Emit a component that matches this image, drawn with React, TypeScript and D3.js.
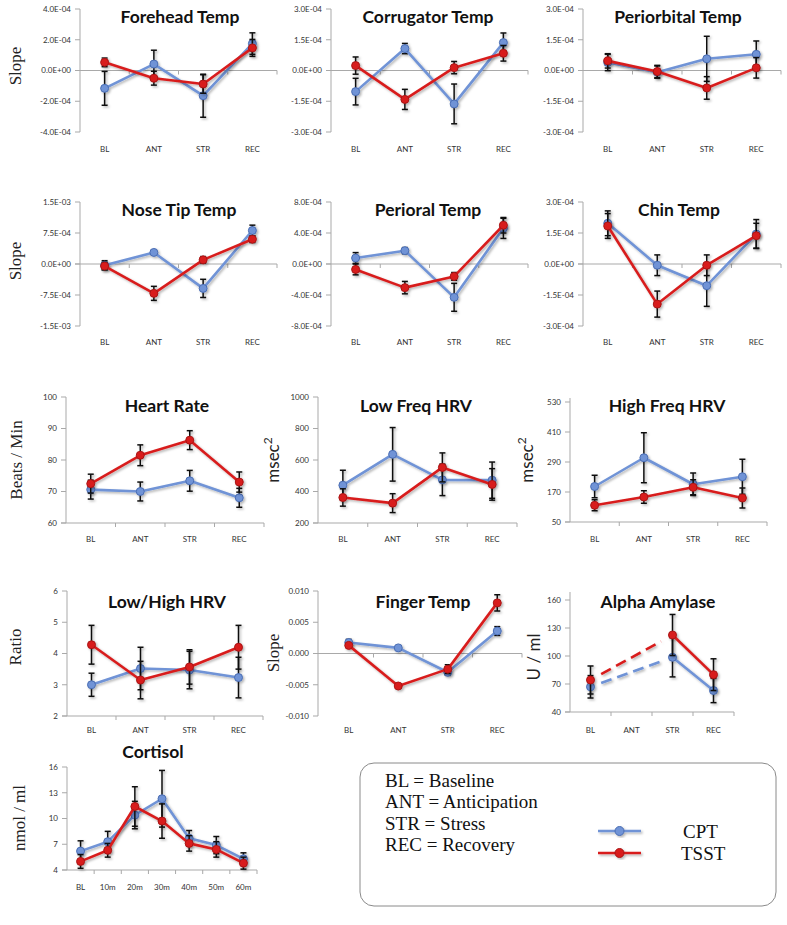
import React from 'react';
import * as d3 from 'd3';

// ---------- categories ----------
const phases = ['BL', 'ANT', 'STR', 'REC'];
const cortisolTimes = ['BL', '10m', '20m', '30m', '40m', '50m', '60m'];

// ---------- tick values ----------
const ticks4e4 = [-4e-4, -2e-4, 0, 2e-4, 4e-4];
const ticks3e4 = [-3e-4, -1.5e-4, 0, 1.5e-4, 3e-4];
const ticks15e3 = [-1.5e-3, -7.5e-4, 0, 7.5e-4, 1.5e-3];
const ticks8e4 = [-8e-4, -4e-4, 0, 4e-4, 8e-4];
const ticksHR = [60, 70, 80, 90, 100];
const ticksLF = [200, 400, 600, 800, 1000];
const ticksHF = [50, 170, 290, 410, 530];
const ticksRatio = [2, 3, 4, 5, 6];
const ticksFinger = [-0.01, -0.005, 0, 0.005, 0.01];
const ticksAmylase = [40, 70, 100, 130, 160];
const ticksCortisol = [4, 7, 10, 13, 16];

// ---------- series (CPT = blue, TSST = red) ----------
const foreheadCPT = [-1.16e-4, 0.42e-4, -1.64e-4, 1.75e-4];
const foreheadCPTErr = [1.1e-4, 0.9e-4, 1.4e-4, 0.7e-4];
const foreheadTSST = [0.53e-4, -0.5e-4, -0.88e-4, 1.47e-4];
const foreheadTSSTErr = [0.28e-4, 0.45e-4, 0.6e-4, 0.55e-4];

const corrugatorCPT = [-1.03e-4, 1.07e-4, -1.63e-4, 1.36e-4];
const corrugatorCPTErr = [0.65e-4, 0.25e-4, 0.97e-4, 0.47e-4];
const corrugatorTSST = [0.24e-4, -1.41e-4, 0.14e-4, 0.84e-4];
const corrugatorTSSTErr = [0.42e-4, 0.49e-4, 0.3e-4, 0.38e-4];

const periorbitalCPT = [0.39e-4, -0.08e-4, 0.57e-4, 0.79e-4];
const periorbitalCPTErr = [0.4e-4, 0.3e-4, 1.1e-4, 0.65e-4];
const periorbitalTSST = [0.47e-4, -0.05e-4, -0.85e-4, 0.13e-4];
const periorbitalTSSTErr = [0.35e-4, 0.3e-4, 0.55e-4, 0.5e-4];

const noseCPT = [-0.3e-4, 2.8e-4, -5.9e-4, 8.1e-4];
const noseCPTErr = [1.1e-4, 0.5e-4, 2.2e-4, 1.3e-4];
const noseTSST = [-0.5e-4, -7.1e-4, 1.0e-4, 6.0e-4];
const noseTSSTErr = [0.9e-4, 1.7e-4, 0.8e-4, 0.8e-4];

const perioralCPT = [0.77e-4, 1.72e-4, -4.3e-4, 4.6e-4];
const perioralCPTErr = [0.7e-4, 0.4e-4, 1.8e-4, 1.3e-4];
const perioralTSST = [-0.7e-4, -3.05e-4, -1.6e-4, 5.0e-4];
const perioralTSSTErr = [0.7e-4, 0.8e-4, 0.5e-4, 1.0e-4];

const chinCPT = [1.97e-4, -0.06e-4, -1.05e-4, 1.45e-4];
const chinCPTErr = [0.6e-4, 0.5e-4, 1.0e-4, 0.7e-4];
const chinTSST = [1.84e-4, -1.94e-4, -0.06e-4, 1.37e-4];
const chinTSSTErr = [0.6e-4, 0.63e-4, 0.5e-4, 0.6e-4];

const hrCPT = [70.6, 70.0, 73.4, 68.0];
const hrCPTErr = [3, 3, 3.3, 3];
const hrTSST = [72.5, 81.5, 86.3, 73.0];
const hrTSSTErr = [3, 3.3, 3, 3.2];

const lfCPT = [440, 636, 474, 472];
const lfCPTErr = [95, 170, 100, 115];
const lfTSST = [362, 326, 553, 445];
const lfTSSTErr = [55, 60, 92, 100];

const hfCPT = [192, 307, 201, 231];
const hfCPTErr = [45, 100, 45, 70];
const hfTSST = [117, 150, 189, 146];
const hfTSSTErr = [22, 25, 30, 40];

const ratioCPT = [3.0, 3.52, 3.47, 3.23];
const ratioCPTErr = [0.37, 0.68, 0.6, 0.65];
const ratioTSST = [4.28, 3.15, 3.57, 4.2];
const ratioTSSTErr = [0.62, 0.6, 0.55, 0.7];

const fingerCPT = [0.00176, 0.0009, -0.003, 0.0036];
const fingerCPTErr = [0.0005, 0.0002, 0.0005, 0.0007];
const fingerTSST = [0.0013, -0.0052, -0.0025, 0.0081];
const fingerTSSTErr = [0.0003, 0.0003, 0.0007, 0.0013];

const amylaseCPT = [67, null, 98.6, 63];
const amylaseCPTErr = [12, null, 21, 13];
const amylaseTSST = [74.3, null, 122.5, 80];
const amylaseTSSTErr = [15, null, 22, 17];

const cortisolCPT = [6.2, 7.3, 10.4, 12.3, 7.7, 6.9, 5.3];
const cortisolCPTErr = [1.2, 1.2, 1.6, 3.3, 0.9, 1.0, 0.7];
const cortisolTSST = [5.0, 6.3, 11.4, 9.7, 7.1, 6.4, 4.8];
const cortisolTSSTErr = [0.8, 0.8, 2.3, 2.0, 0.9, 0.9, 0.7];

const legendDefs = ['BL = Baseline', 'ANT = Anticipation', 'STR = Stress', 'REC = Recovery'];
const seriesNames = ['CPT', 'TSST'];

// ---------- styles ----------
const BLUE = '#6f93d6';
const BLUE_DARK = '#4a6db3';
const RED = '#d81e1e';
const RED_DARK = '#a81414';
const AXIS = '#a9a9a9';
const TICKTXT = '#333';
const SANS = 'Lato, "Open Sans", sans-serif';
const SERIF = '"Liberation Serif", "DejaVu Serif", serif';

const sci = (v: number) => {
  if (v === 0) return '0.0E+00';
  const [m, e] = v.toExponential(1).split('e');
  const n = parseInt(e, 10);
  return `${m}E${n < 0 ? '-' : '+'}${String(Math.abs(n)).padStart(2, '0')}`;
};
const fix3 = (v: number) => v.toFixed(3);
const intf = (v: number) => String(v);

type Panel = {
  title: string; titleX: number; titleY: number;
  ylabel: string; ylabelSup?: string; ylabelX?: number; ylabelY?: number; ylabelFont?: string;
  cats: string[];
  cpt: (number | null)[]; cptErr: (number | null)[];
  tsst: (number | null)[]; tsstErr: (number | null)[];
  domain: [number, number]; ticks: number[]; fmt: (v: number) => string;
  axisX: number; left: number; right: number; top: number; bottom: number; axisTop?: number;
  labelY: number; zeroAxis: boolean; bridge?: [number, number];
};

const R1 = { top: 9, bottom: 132, labelY: 152 };
const R2 = { top: 202, bottom: 326, labelY: 345 };
const R3 = { top: 397, bottom: 523, labelY: 542 };
const R4 = { top: 591, bottom: 716, labelY: 733 };

const panels: Panel[] = [
  { title: 'Forehead Temp', titleX: 180, titleY: 23, ylabel: 'Slope', ylabelX: 21, ylabelY: 66,
    cats: phases, cpt: foreheadCPT, cptErr: foreheadCPTErr, tsst: foreheadTSST, tsstErr: foreheadTSSTErr,
    domain: [-4e-4, 4e-4], ticks: ticks4e4, fmt: sci, axisX: 80, left: 80, right: 277, ...R1, zeroAxis: true },
  { title: 'Corrugator Temp', titleX: 428, titleY: 23, ylabel: '',
    cats: phases, cpt: corrugatorCPT, cptErr: corrugatorCPTErr, tsst: corrugatorTSST, tsstErr: corrugatorTSSTErr,
    domain: [-3e-4, 3e-4], ticks: ticks3e4, fmt: sci, axisX: 331, left: 331, right: 528, ...R1, zeroAxis: true },
  { title: 'Periorbital Temp', titleX: 678, titleY: 23, ylabel: '',
    cats: phases, cpt: periorbitalCPT, cptErr: periorbitalCPTErr, tsst: periorbitalTSST, tsstErr: periorbitalTSSTErr,
    domain: [-3e-4, 3e-4], ticks: ticks3e4, fmt: sci, axisX: 583, left: 583, right: 781, ...R1, zeroAxis: true },
  { title: 'Nose Tip Temp', titleX: 179, titleY: 216, ylabel: 'Slope', ylabelX: 21, ylabelY: 261,
    cats: phases, cpt: noseCPT, cptErr: noseCPTErr, tsst: noseTSST, tsstErr: noseTSSTErr,
    domain: [-1.5e-3, 1.5e-3], ticks: ticks15e3, fmt: sci, axisX: 80, left: 80, right: 277, ...R2, zeroAxis: true },
  { title: 'Perioral Temp', titleX: 428, titleY: 216, ylabel: '',
    cats: phases, cpt: perioralCPT, cptErr: perioralCPTErr, tsst: perioralTSST, tsstErr: perioralTSSTErr,
    domain: [-8e-4, 8e-4], ticks: ticks8e4, fmt: sci, axisX: 331, left: 331, right: 528, ...R2, zeroAxis: true },
  { title: 'Chin Temp', titleX: 679, titleY: 216, ylabel: '',
    cats: phases, cpt: chinCPT, cptErr: chinCPTErr, tsst: chinTSST, tsstErr: chinTSSTErr,
    domain: [-3e-4, 3e-4], ticks: ticks3e4, fmt: sci, axisX: 583, left: 583, right: 781, ...R2, zeroAxis: true },
  { title: 'Heart Rate', titleX: 167, titleY: 412, ylabel: 'Beats / Min', ylabelX: 22, ylabelY: 460,
    cats: phases, cpt: hrCPT, cptErr: hrCPTErr, tsst: hrTSST, tsstErr: hrTSSTErr,
    domain: [60, 100], ticks: ticksHR, fmt: intf, axisX: 66, left: 66, right: 264, ...R3, zeroAxis: false },
  { title: 'Low Freq HRV', titleX: 416, titleY: 412, ylabel: 'msec', ylabelSup: '2', ylabelX: 279, ylabelY: 460, ylabelFont: SANS,
    cats: phases, cpt: lfCPT, cptErr: lfCPTErr, tsst: lfTSST, tsstErr: lfTSSTErr,
    domain: [200, 1000], ticks: ticksLF, fmt: intf, axisX: 318, left: 318, right: 517, ...R3, zeroAxis: false },
  { title: 'High Freq HRV', titleX: 667, titleY: 412, ylabel: 'msec', ylabelSup: '2', ylabelX: 533, ylabelY: 460, ylabelFont: SANS,
    cats: phases, cpt: hfCPT, cptErr: hfCPTErr, tsst: hfTSST, tsstErr: hfTSSTErr,
    domain: [50, 530], ticks: ticksHF, fmt: intf, axisX: 570, left: 570, right: 767,
    top: 402, bottom: 522, axisTop: 398, labelY: 542, zeroAxis: false },
  { title: 'Low/High HRV', titleX: 167, titleY: 608, ylabel: 'Ratio', ylabelX: 21, ylabelY: 647,
    cats: phases, cpt: ratioCPT, cptErr: ratioCPTErr, tsst: ratioTSST, tsstErr: ratioTSSTErr,
    domain: [2, 6], ticks: ticksRatio, fmt: intf, axisX: 67, left: 67, right: 263, ...R4, zeroAxis: false },
  { title: 'Finger Temp', titleX: 423, titleY: 608, ylabel: 'Slope', ylabelX: 279, ylabelY: 653,
    cats: phases, cpt: fingerCPT, cptErr: fingerCPTErr, tsst: fingerTSST, tsstErr: fingerTSSTErr,
    domain: [-0.01, 0.01], ticks: ticksFinger, fmt: fix3, axisX: 318, left: 324, right: 522, ...R4, zeroAxis: true },
  { title: 'Alpha Amylase', titleX: 658, titleY: 608, ylabel: 'U / ml', ylabelX: 540, ylabelY: 657, ylabelFont: SANS,
    cats: phases, cpt: amylaseCPT, cptErr: amylaseCPTErr, tsst: amylaseTSST, tsstErr: amylaseTSSTErr,
    domain: [40, 160], ticks: ticksAmylase, fmt: intf, axisX: 570, left: 570, right: 734,
    top: 600, bottom: 712, axisTop: 592, labelY: 733, zeroAxis: false, bridge: [0, 2] },
  { title: 'Cortisol', titleX: 153, titleY: 758, ylabel: 'nmol / ml', ylabelX: 25, ylabelY: 818,
    cats: cortisolTimes, cpt: cortisolCPT, cptErr: cortisolCPTErr, tsst: cortisolTSST, tsstErr: cortisolTSSTErr,
    domain: [4, 16], ticks: ticksCortisol, fmt: intf, axisX: 67, left: 67, right: 257,
    top: 767, bottom: 870, labelY: 890, zeroAxis: false },
];

function Series({ p, vals, errs, color, dark, x, y }: any) {
  const pts = vals.map((v: number | null, i: number) => ({ v, i }));
  const line = d3.line<any>()
    .defined((d) => d.v != null)
    .x((d) => x(d.i))
    .y((d) => y(d.v));
  let bridge = null;
  if (p.bridge) {
    const [a, b] = p.bridge;
    const x1 = x(a), y1 = y(vals[a]), x2 = x(b), y2 = y(vals[b]);
    const t0 = 0.13, t1 = 0.86;
    bridge = (
      <line x1={x1 + (x2 - x1) * t0} y1={y1 + (y2 - y1) * t0} x2={x1 + (x2 - x1) * t1} y2={y1 + (y2 - y1) * t1}
        stroke={color} strokeWidth={2.6} strokeDasharray="11 6" />
    );
  }
  return (
    <g filter="url(#shadow)">
      {pts.filter((d: any) => d.v != null).map((d: any) => {
        const e = errs[d.i];
        const cx = x(d.i);
        const yt = y(d.v + e), yb = y(d.v - e);
        return (
          <g key={'e' + d.i} stroke="#111" strokeWidth={1.5}>
            <line x1={cx} x2={cx} y1={yt} y2={yb} />
            <line x1={cx - 3} x2={cx + 3} y1={yt} y2={yt} />
            <line x1={cx - 3} x2={cx + 3} y1={yb} y2={yb} />
          </g>
        );
      })}
      <path d={line(pts) || ''} fill="none" stroke={color} strokeWidth={2.6} strokeLinejoin="round" />
      {bridge}
      {pts.filter((d: any) => d.v != null).map((d: any) => (
        <circle key={'c' + d.i} cx={x(d.i)} cy={y(d.v)} r={4} fill={color} stroke={dark} strokeWidth={1} />
      ))}
    </g>
  );
}

function PanelView({ p }: { p: Panel }) {
  const xb = d3.scaleBand().domain(p.cats).range([p.left, p.right]);
  const bw = xb.bandwidth();
  const xi = (i: number) => (xb(p.cats[i]) as number) + bw / 2;
  const y = d3.scaleLinear().domain(p.domain).range([p.bottom, p.top]);
  const axisY = p.zeroAxis ? y(0) : p.bottom;
  const bounds = d3.range(p.cats.length + 1).map((i) => p.left + i * bw);
  return (
    <g>
      <line x1={p.axisX} x2={p.axisX} y1={p.axisTop ?? p.top} y2={p.bottom} stroke={AXIS} strokeWidth={1} />
      {p.ticks.map((t) => (
        <g key={t}>
          <line x1={p.axisX - 5} x2={p.axisX} y1={y(t)} y2={y(t)} stroke={AXIS} strokeWidth={1} />
          <text x={p.axisX - 9} y={y(t)} dy="0.35em" textAnchor="end" fontSize={8} fontFamily={SANS}
            fill={TICKTXT}>{p.fmt(t)}</text>
        </g>
      ))}
      <line x1={p.axisX - 5} x2={p.right} y1={axisY} y2={axisY} stroke={AXIS} strokeWidth={1} />
      {bounds.slice(1).map((bx, i) => (
        <line key={i} x1={bx} x2={bx} y1={axisY} y2={axisY + 4} stroke={AXIS} strokeWidth={1} />
      ))}
      {p.cats.map((c, i) => (
        <text key={c} x={xi(i)} y={p.labelY} textAnchor="middle" fontSize={8} fontFamily={SANS}
          fill={TICKTXT}>{c}</text>
      ))}
      <text x={p.titleX} y={p.titleY} textAnchor="middle" fontSize={17.5} fontWeight={700} fontFamily={SANS}
        fill="#111">{p.title}</text>
      {p.ylabel && (
        <text transform={`translate(${p.ylabelX},${p.ylabelY}) rotate(-90)`} textAnchor="middle"
          fontSize={17} fontFamily={p.ylabelFont || SERIF} fill="#222">
          {p.ylabel}
          {p.ylabelSup && <tspan dy={-7} fontSize={12}>{p.ylabelSup}</tspan>}
        </text>
      )}
      <Series p={p} vals={p.cpt} errs={p.cptErr} color={BLUE} dark={BLUE_DARK} x={xi} y={y} />
      <Series p={p} vals={p.tsst} errs={p.tsstErr} color={RED} dark={RED_DARK} x={xi} y={y} />
    </g>
  );
}

function Legend() {
  const lx = 385;
  const ly = [787, 808, 830, 851];
  const items = [
    { name: seriesNames[0], color: BLUE, dark: BLUE_DARK, y: 831, tx: 683 },
    { name: seriesNames[1], color: RED, dark: RED_DARK, y: 853, tx: 681 },
  ];
  return (
    <g>
      <rect x={360} y={763} width={416} height={143} rx={14} ry={14} fill="#fff" stroke="#8a8a8a" strokeWidth={1} />
      {legendDefs.map((t, i) => (
        <text key={t} x={lx} y={ly[i]} fontSize={19} fontFamily={SERIF} fill="#111">{t}</text>
      ))}
      {items.map((it) => (
        <g key={it.name}>
          <g filter="url(#shadow)">
            <line x1={598} x2={641} y1={it.y} y2={it.y} stroke={it.color} strokeWidth={2.6} />
            <circle cx={619.5} cy={it.y} r={4.5} fill={it.color} stroke={it.dark} strokeWidth={1} />
          </g>
          <text x={it.tx} y={it.y + 7} fontSize={19} fontFamily={SERIF} fill="#111">{it.name}</text>
        </g>
      ))}
    </g>
  );
}

export default function App() {
  return (
    <svg width={787} height={925} viewBox="0 0 787 925"
      style={{ position: 'absolute', left: 0, top: 0, background: '#fff' }}>
      <defs>
        <filter id="shadow" x="-20%" y="-20%" width="140%" height="140%">
          <feDropShadow dx={1.5} dy={1.5} stdDeviation={1.2} floodColor="#000" floodOpacity={0.3} />
        </filter>
      </defs>
      <rect width={787} height={925} fill="#fff" />
      {panels.map((p) => <PanelView key={p.title} p={p} />)}
      <Legend />
    </svg>
  );
}
